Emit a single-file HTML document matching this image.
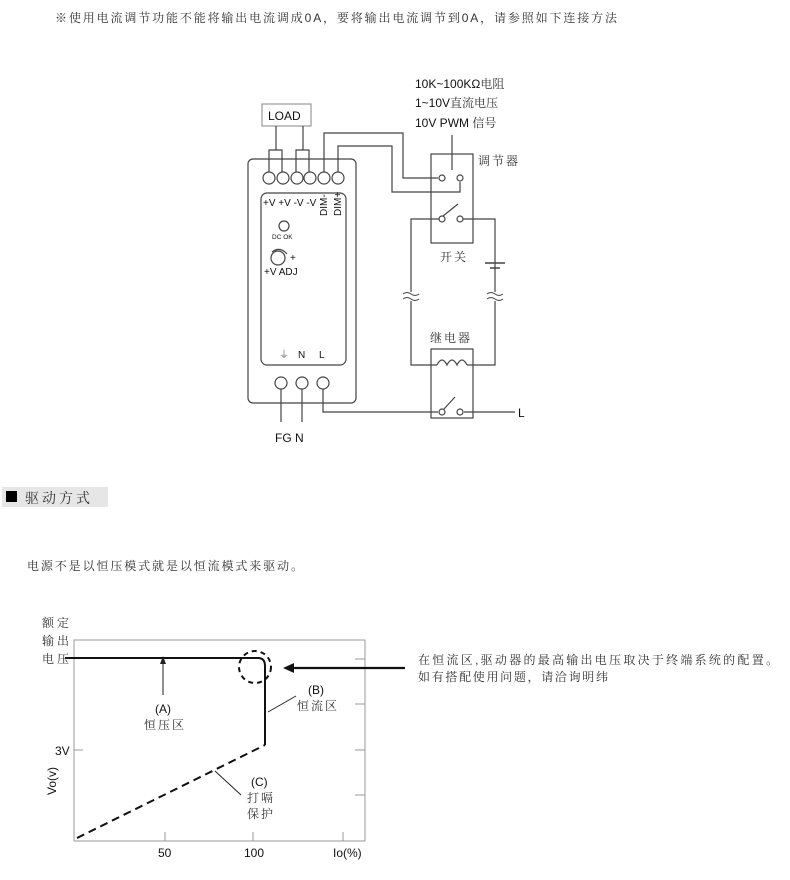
<!DOCTYPE html>
<html><head><meta charset="utf-8"><style>
html,body{margin:0;padding:0;background:#fff;}
svg{display:block;font-family:"Liberation Sans","Noto Sans CJK SC",sans-serif;}
.c{font-family:"Liberation Sans","Noto Serif CJK SC","Noto Sans CJK SC",sans-serif;fill:#333;}
</style></head><body>
<svg width="790" height="880" viewBox="0 0 790 880" xmlns="http://www.w3.org/2000/svg">
<text x="55" y="22" font-size="12" class="c" textLength="562" lengthAdjust="spacing">※使用电流调节功能不能将输出电流调成0A，要将输出电流调节到0A，请参照如下连接方法</text>

<g fill="none" stroke="#444" stroke-width="1.2">
<!-- PSU -->
<rect x="248" y="159" width="108" height="244" rx="5"/>
<rect x="261" y="193" width="85" height="172" rx="6"/>
<rect x="262" y="104" width="49" height="22" stroke="#999"/>
<circle cx="269" cy="178" r="6"/><circle cx="283" cy="178" r="6"/><circle cx="297" cy="178" r="6"/>
<circle cx="310" cy="178" r="6"/><circle cx="324" cy="178" r="6"/><circle cx="338" cy="178" r="6"/>
<path d="M276 126V150M269 172V150H282V172"/>
<path d="M303 126V150M296 172V150H309V172"/>
<path d="M324 172V133H403V178H438"/>
<path d="M338 172V146H392V192H460V182"/>
<circle cx="284" cy="226" r="5"/>
<circle cx="278" cy="258" r="7"/>
<path d="M272 252Q280 246 287 254"/>
<circle cx="281" cy="383" r="6"/><circle cx="302" cy="383" r="6"/><circle cx="323" cy="383" r="6"/>
<path d="M281 389V422M302 389V422M323 389V412H438M464 412H515"/>
<!-- dimmer -->
<rect x="431" y="154" width="42" height="89"/>
<path d="M452 135V170"/>
<circle cx="442" cy="178" r="3"/><circle cx="460" cy="178" r="3"/>
<circle cx="442" cy="219" r="3"/><circle cx="460" cy="219" r="3"/>
<path d="M443 216L458 204"/>
<path d="M439 219H411V365H437M467 365H495V219H463"/>
<path d="M437 365q5-10 10 0q5-10 10 0q5-10 10 0"/>
<path d="M485 263H505M490 268H500" stroke-width="1.5"/>
<rect x="431" y="349" width="42" height="69"/>
<circle cx="442" cy="412" r="3"/><circle cx="460" cy="412" r="3"/>
<path d="M444 409L455 397"/>
</g>
<g fill="#fff" stroke="#444" stroke-width="1">
<rect x="405" y="292" width="12" height="9" stroke="none"/>
<rect x="489" y="292" width="12" height="9" stroke="none"/>
<path d="M403 294q4-3 8 0t8 0M403 299q4-3 8 0t8 0M487 294q4-3 8 0t8 0M487 299q4-3 8 0t8 0" fill="none"/>
</g>
<g font-size="11" fill="#111">
<text x="268" y="120" font-size="12">LOAD</text>
<text x="263" y="206" font-size="10">+V +V -V -V</text>
<text transform="translate(327,216) rotate(-90)" font-size="10">DIM-</text>
<text transform="translate(341,216) rotate(-90)" font-size="10">DIM+</text>
<text x="272" y="239" font-size="6.5">DC OK</text>
<text x="290" y="261" font-size="10">+</text>
<text x="264" y="275" font-size="10">+V ADJ</text>
<text x="279" y="358" font-size="10" fill="#777">⏚</text>
<text x="298" y="358" font-size="10">N</text>
<text x="319" y="358" font-size="10">L</text>
<text x="275" y="442" font-size="12">FG N</text>
<text x="518" y="417" font-size="12">L</text>
<text x="415" y="88" font-size="12">10K~100KΩ<tspan class="c">电阻</tspan></text>
<text x="415" y="107" font-size="12">1~10V<tspan class="c">直流电压</tspan></text>
<text x="415" y="127" font-size="12">10V PWM <tspan class="c">信号</tspan></text>
<text x="478" y="165" font-size="12" class="c" letter-spacing="2">调节器</text>
<text x="440" y="261" font-size="12" class="c" letter-spacing="2">开关</text>
<text x="430" y="342" font-size="12" class="c" letter-spacing="2">继电器</text>
</g>

<rect x="2" y="487" width="106" height="20" fill="#e6e6e6"/>
<rect x="6" y="491" width="11" height="11" fill="#000"/>
<text x="25" y="503" font-size="14" class="c" letter-spacing="3">驱动方式</text>
<text x="27" y="570" font-size="12" class="c" textLength="276" lengthAdjust="spacing">电源不是以恒压模式就是以恒流模式来驱动。</text>

<!-- chart -->
<g fill="none">
<rect x="74" y="640" width="291" height="201" stroke="#999" stroke-width="1"/>
<path d="M355 659H365M355 704H365M355 750H365M355 795H365M74 750H83M165 841V832M253 841V832M343 841V832" stroke="#999"/>
<path d="M65 658H258Q265 658 265 666V745" stroke="#111" stroke-width="2"/>
<path d="M77 838L265 745" stroke="#111" stroke-width="2" stroke-dasharray="8,5"/>
<circle cx="255" cy="667" r="16" stroke="#111" stroke-width="2" stroke-dasharray="5,4"/>
<path d="M163 695V662M296 696L268 712M241 795L215 771" stroke="#222"/>
<path d="M405 668H292" stroke="#111" stroke-width="2.2"/>
</g>
<path d="M160 664L163 656L166 664Z" fill="#222"/>
<path d="M283 668L294 663V673Z" fill="#111"/>
<g font-size="12" class="c">
<text x="42" y="627" letter-spacing="3">额定</text>
<text x="42" y="645" letter-spacing="3">输出</text>
<text x="42" y="663" letter-spacing="3">电压</text>
<text x="144" y="729" letter-spacing="2">恒压区</text>
<text x="297" y="710" letter-spacing="2">恒流区</text>
<text x="247" y="802" letter-spacing="2">打嗝</text>
<text x="247" y="818" letter-spacing="2">保护</text>
<text x="418" y="664" textLength="360" lengthAdjust="spacing">在恒流区,驱动器的最高输出电压取决于终端系统的配置。</text>
<text x="418" y="681" textLength="190" lengthAdjust="spacing">如有搭配使用问题，请洽询明纬</text>
</g>
<g font-size="12" fill="#111">
<text x="155" y="713">(A)</text>
<text x="308" y="694">(B)</text>
<text x="251" y="786">(C)</text>
<text x="55" y="755">3V</text>
<text transform="translate(56,795) rotate(-90)">Vo(v)</text>
<text x="158" y="857">50</text>
<text x="244" y="857">100</text>
<text x="333" y="857">Io(%)</text>
</g>
</svg>
</body></html>
